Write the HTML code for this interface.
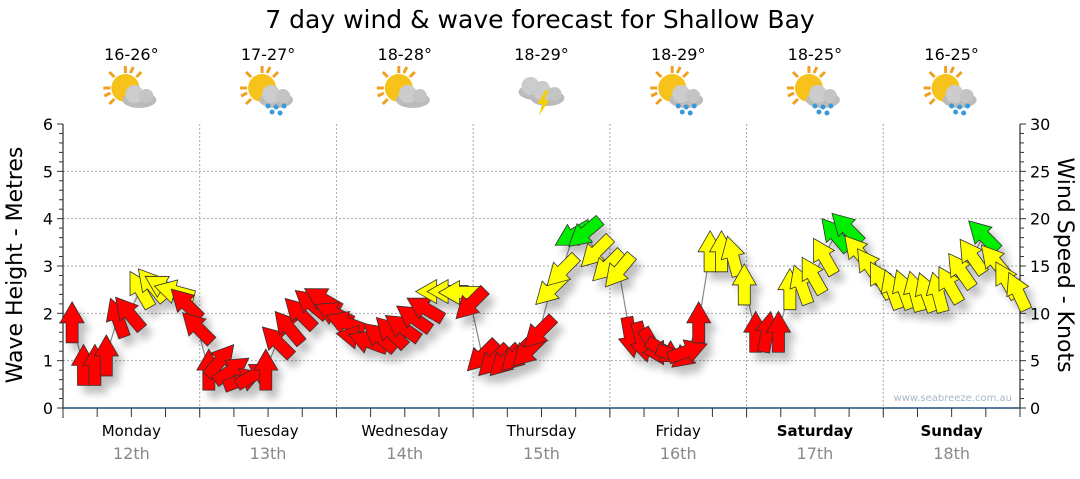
<!DOCTYPE html>
<html><head><meta charset="utf-8">
<style>
body{margin:0;background:#fff;font-family:"DejaVu Sans","Liberation Sans",sans-serif;}
svg text{font-family:"DejaVu Sans","Liberation Sans",sans-serif;}
</style></head>
<body>
<svg id="chart" width="1080" height="475" viewBox="0 0 1080 475">
<defs>
<filter id="sh" x="-50%" y="-50%" width="200%" height="200%"><feGaussianBlur in="SourceAlpha" stdDeviation="4"/><feOffset dx="6" dy="8"/><feComponentTransfer><feFuncA type="linear" slope="0.25"/></feComponentTransfer><feMerge><feMergeNode/><feMergeNode in="SourceGraphic"/></feMerge></filter>
<g id="sun"><circle r="14" fill="#f7c21a"/><g stroke="#f0a020" stroke-width="3"><line x1="0" y1="-22" x2="0" y2="-15"/><line x1="-22" y1="0" x2="-15" y2="0"/><line x1="-16" y1="-16" x2="-11" y2="-11"/><line x1="16" y1="-16" x2="11" y2="-11"/><line x1="-16" y1="16" x2="-11" y2="11"/><line x1="8" y1="-21" x2="5" y2="-15"/><line x1="-21" y1="8" x2="-15" y2="5"/></g></g>
<g id="cloud"><ellipse cx="0" cy="4" rx="17" ry="8" fill="#bbb"/><circle cx="-5" cy="-2" r="9" fill="#ccc"/><circle cx="7" cy="0" r="7" fill="#c4c4c4"/></g>
<g id="rain" fill="#3a9ad9"><circle cx="-8" cy="14" r="2.5"/><circle cx="0" cy="15" r="2.5"/><circle cx="8" cy="14" r="2.5"/><circle cx="-4" cy="20" r="2.5"/><circle cx="4" cy="21" r="2.5"/></g>
</defs>
<text x="540" y="28" text-anchor="middle" font-size="25">7 day wind &amp; wave forecast for Shallow Bay</text>
<g id="grid"></g>
<g id="header"></g>
<g id="axes"></g>
<polyline id="line" fill="none" stroke="#888" stroke-width="1.2"/>
<g id="arrows" filter="url(#sh)"></g>
<text x="1012" y="401" text-anchor="end" font-size="10" fill="#a9b7c8">www.seabreeze.com.au</text>
<text transform="translate(22,265) rotate(-90)" text-anchor="middle" font-size="22">Wave Height - Metres</text>
<text transform="translate(1058,265) rotate(90)" text-anchor="middle" font-size="22">Wind Speed - Knots</text>
</svg>
<script>
const days=["Monday","Tuesday","Wednesday","Thursday","Friday","Saturday","Sunday"];
const dates=["12th","13th","14th","15th","16th","17th","18th"];
const temps=["16-26°","17-27°","18-28°","18-29°","18-29°","18-25°","16-25°"];
const weather=["cloudy","rain","cloudy","storm","rain","rain","rain"];
const leftTicks=[0,1,2,3,4,5,6];
const rightTicks=[0,5,10,15,20,25,30];
const windSpeed=[9,4.5,4.5,5.5,9.5,10,12.5,13,12.8,12.3,11,8.5,
 4,5,4,3,3.5,4,7,8.5,10,11,11.5,10,
 9,7.5,7,7.5,8,8.5,9.5,10.5,12.3,12.3,12.2,11,
 5.5,5,5,5.5,6,8,12.5,14.5,18.3,18.5,16.5,15,
 14.5,7.5,7,6.5,6,5.5,6,9,16.5,16.5,16,13,
 8,8,8,12.5,13,14,16,18.3,19,16.5,15,13.5,
 12.5,12.5,12.3,12.2,12.2,13,14.5,16,18.2,15.5,13.5,12.3];
const windDir=[0,0,0,0,-20,-40,-30,-40,-60,-75,-45,-45,
 0,40,55,70,60,0,-45,-40,-45,-50,-60,-65,
 -70,-80,-70,-50,-45,-55,-55,-60,-90,-90,-90,-135,
 225,225,225,225,225,225,225,225,240,230,225,225,
 220,170,165,150,120,110,70,0,0,0,-15,0,
 0,10,0,0,-20,-30,-30,-40,-45,-40,-35,-30,
 -20,-20,-15,-20,-15,-30,-35,-35,-45,-40,-30,-25];
const PER_DAY=12;
const X0=63,X1=1020,Y0=408,Y1=124,DW=(X1-X0)/7;
const ym=v=>Y0-(v/6)*(Y0-Y1), yk=v=>Y0-(v/30)*(Y0-Y1);
const xi=i=>X0+Math.floor(i/PER_DAY)*DW+(i%PER_DAY+0.8)*DW/PER_DAY;
const NS="http://www.w3.org/2000/svg";
function mk(t,a,p){const e=document.createElementNS(NS,t);for(const k in a)e.setAttribute(k,a[k]);p.appendChild(e);return e;}
const grid=document.getElementById('grid'),axes=document.getElementById('axes'),hdr=document.getElementById('header');
for(let v=1;v<=5;v++){const l=mk('line',{x1:X0,x2:X1,y1:ym(v),y2:ym(v),stroke:'#aaa','stroke-dasharray':'2,2'},grid);

}
for(let d=1;d<7;d++){const l=mk('line',{x1:X0+d*DW,x2:X0+d*DW,y1:Y1,y2:Y0+10,stroke:'#aaa','stroke-dasharray':'2,2'},grid);

}
mk('line',{x1:X0,x2:X0,y1:Y1,y2:Y0+10,stroke:'#000'},axes);
mk('line',{x1:X1,x2:X1,y1:Y1,y2:Y0,stroke:'#000'},axes);
mk('line',{x1:X0,x2:X1,y1:Y0,y2:Y0,stroke:'#1d4f7a','stroke-width':1.5},axes);
for(let k=0;k<=30;k++){const y=Y0-k*(Y0-Y1)/30;mk('line',{x1:X0-(k%5?4:6),x2:X0,y1:y,y2:y,stroke:'#333'},axes);mk('line',{x1:X1,x2:X1+(k%5?4:6),y1:y,y2:y,stroke:'#333'},axes);}
for(let k=0;k<=28;k++){const x=X0+k*DW/4;mk('line',{x1:x,x2:x,y1:Y0,y2:Y0+9,stroke:'#333'},axes);}
leftTicks.forEach(v=>{const t=mk('text',{x:X0-10,y:ym(v)+6,'text-anchor':'end','font-size':16},axes);t.textContent=v;

});
rightTicks.forEach(v=>{const t=mk('text',{x:X1+10,y:yk(v)+6,'font-size':16},axes);t.textContent=v;

});
days.forEach((d,i)=>{const cx=X0+(i+0.5)*DW;const w=i>=5?'bold':'normal';
const a=mk('text',{x:cx,y:436,'text-anchor':'middle','font-size':15,'font-weight':w},axes);a.textContent=d;


const b=mk('text',{x:cx,y:459,'text-anchor':'middle','font-size':16,fill:'#888'},axes);b.textContent=dates[i];


const t=mk('text',{x:cx,y:60,'text-anchor':'middle','font-size':16},hdr);t.textContent=temps[i];


const g=mk('g',{transform:`translate(${cx},92)`},hdr);


if(weather[i]==='storm'){mk('use',{href:'#cloud',x:-6,y:-4},g);mk('use',{href:'#cloud',x:6,y:2},g);mk('polygon',{points:'4,-2 -4,12 1,12 -3,24 8,8 3,8 7,-2',fill:'#f5d000'},g);}
else{mk('use',{href:'#sun',x:-6,y:-4},g);mk('use',{href:'#cloud',x:8,y:4},g);if(weather[i]==='rain')mk('use',{href:'#rain',x:8,y:0},g);}
});
const pts=windSpeed.map((v,i)=>xi(i)+','+yk(v)).join(' ');
document.getElementById('line').setAttribute('points',pts);
const ar=document.getElementById('arrows');
windSpeed.forEach((v,i)=>{const c=v>=18?'#00ee00':v>=12?'#ffff00':'#ff0000';
const p=mk('polygon',{points:'-6,20 6,20 6,0 12,0 0,-21 -12,0 -6,0',fill:c,stroke:'#333','stroke-width':0.8,transform:`translate(${xi(i)},${yk(v)}) rotate(${windDir[i]})`},ar);

});
</script>
</body></html>
